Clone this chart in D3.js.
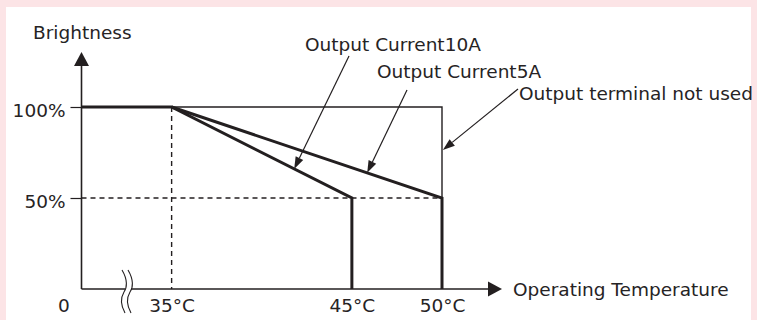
<!DOCTYPE html>
<html>
<head>
<meta charset="utf-8">
<script src="https://cdn.jsdelivr.net/npm/d3@7"></script>
<style>
  html, body { margin: 0; padding: 0; background: #fce4e6; }
  svg { display: block; }
  text { font-family: "DejaVu Sans", Verdana, sans-serif; fill: #262324; }
</style>
</head>
<body>
<svg id="chart" width="757" height="320"></svg>
<script>
// ---------- data ----------
const xTickValues = [35, 45, 50];
const xTickLabels = ["35°C", "45°C", "50°C"];
const yTickValues = [50, 100];
const yTickLabels = ["50%", "100%"];
const xAxisTitle = "Operating Temperature";
const yAxisTitle = "Brightness";
const originLabel = "0";

// derating curves (temperature °C, brightness %)
const curve10A_t = [30, 35, 45, 45];
const curve10A_b = [100, 100, 50, 0];
const curve5A_t = [35, 50, 50];
const curve5A_b = [100, 50, 0];
const noUse_t = [30, 50, 50];
const noUse_b = [100, 100, 50];

// annotation labels and their target points (temperature, brightness)
const annLabels = ["Output Current10A", "Output Current5A", "Output terminal not used"];
const annTargetT = [41.8, 45.85, 50.05];
const annTargetB = [66, 63.9, 76.4];

// ---------- layout ----------
const W = 757, H = 320;
const ink = "#231f20";
const svg = d3.select("#chart");

svg.append("rect").attr("x", 0).attr("y", 0).attr("width", W).attr("height", H).attr("fill", "#fce4e6");
svg.append("rect").attr("x", 6).attr("y", 7).attr("width", 745).attr("height", H - 7).attr("fill", "#ffffff");

const x = d3.scaleLinear().domain([30, 50]).range([81.5, 442]);
const y = d3.scaleLinear().domain([0, 100]).range([289, 107]);
const axisEndX = 502;   // arrow tip of x axis
const axisTopY = 52;    // arrow tip of y axis

const g = svg.append("g");

// dashed guides
g.append("line")
  .attr("x1", x(35)).attr("x2", x(35)).attr("y1", y(100)).attr("y2", y(0))
  .attr("stroke", ink).attr("stroke-width", 1.4).attr("stroke-dasharray", "5,4");
g.append("line")
  .attr("x1", x(30)).attr("x2", x(50)).attr("y1", y(50)).attr("y2", y(50))
  .attr("stroke", ink).attr("stroke-width", 1.4).attr("stroke-dasharray", "5,4");

const line = d3.line().x(d => x(d[0])).y(d => y(d[1]));

// thin "not used" envelope
g.append("path")
  .datum(d3.zip(noUse_t, noUse_b))
  .attr("d", line).attr("fill", "none").attr("stroke", ink).attr("stroke-width", 1.4);

// thick curves
[[curve10A_t, curve10A_b], [curve5A_t, curve5A_b]].forEach(([ts, bs]) => {
  g.append("path")
    .datum(d3.zip(ts, bs))
    .attr("d", line).attr("fill", "none").attr("stroke", ink)
    .attr("stroke-width", 3).attr("stroke-linejoin", "miter");
});

// x axis line (with break)
const breakX1 = 125, breakX2 = 131;
g.append("line").attr("x1", x(30)).attr("x2", breakX1).attr("y1", y(0)).attr("y2", y(0))
  .attr("stroke", ink).attr("stroke-width", 1.6);
g.append("line").attr("x1", breakX2).attr("x2", axisEndX - 12).attr("y1", y(0)).attr("y2", y(0))
  .attr("stroke", ink).attr("stroke-width", 1.6);
// break marks
[breakX1 - 1, breakX2 - 1].forEach(bx => {
  g.append("path")
    .attr("d", `M${bx - 2},270 C${bx + 4},280 ${bx + 3},288 ${bx},292 C${bx - 3},297 ${bx - 4},304 ${bx + 1},313`)
    .attr("fill", "none").attr("stroke", ink).attr("stroke-width", 1.1);
});
// x arrow
g.append("path")
  .attr("d", `M${axisEndX},${y(0)} L${axisEndX - 14},${y(0) - 7.5} L${axisEndX - 14},${y(0) + 7.5} Z`)
  .attr("fill", ink);

// y axis line + arrow
g.append("line").attr("x1", x(30)).attr("x2", x(30)).attr("y1", y(0)).attr("y2", axisTopY + 12)
  .attr("stroke", ink).attr("stroke-width", 1.6);
g.append("path")
  .attr("d", `M${x(30)},${axisTopY} L${x(30) - 7.5},${axisTopY + 14} L${x(30) + 7.5},${axisTopY + 14} Z`)
  .attr("fill", ink);

// y axis ticks & labels
const yAxis = d3.axisLeft(y).tickValues(yTickValues)
  .tickFormat((d, i) => yTickLabels[i]).tickSize(11).tickPadding(5);
const yg = g.append("g").attr("transform", `translate(${x(30)},0)`).call(yAxis);
yg.select(".domain").remove();
yg.selectAll(".tick line").attr("stroke", ink).attr("stroke-width", 1.2);
yg.selectAll(".tick text").attr("font-size", 18.5).attr("font-family", "DejaVu Sans")
  .attr("fill", "#262324").attr("dy", "0.5em");

// x axis labels
const xAxis = d3.axisBottom(x).tickValues(xTickValues)
  .tickFormat((d, i) => xTickLabels[i]).tickSize(0).tickPadding(0);
const xg = g.append("g").attr("transform", `translate(0,${y(0)})`).call(xAxis);
xg.select(".domain").remove();
xg.selectAll(".tick text").attr("font-size", 18.5).attr("font-family", "DejaVu Sans")
  .attr("fill", "#262324").attr("dy", null).attr("y", 23);

// origin label
g.append("text").attr("x", 64).attr("y", y(0) + 23).attr("text-anchor", "middle")
  .attr("font-size", 18.5).text(originLabel);

// axis titles
g.append("text").attr("x", 33).attr("y", 39).attr("font-size", 18.5).text(yAxisTitle);
g.append("text").attr("x", 513).attr("y", y(0) + 7).attr("font-size", 18.5).text(xAxisTitle);

// annotations
const annTextPos = [[305, 51], [377, 78], [519, 100]];
const annLeaderStart = [[349, 56], [407, 90], [518, 89]];
annLabels.forEach((lab, i) => {
  g.append("text").attr("x", annTextPos[i][0]).attr("y", annTextPos[i][1])
    .attr("font-size", 18.5).text(lab);
  const [sx, sy] = annLeaderStart[i];
  const tx = x(annTargetT[i]), ty = y(annTargetB[i]);
  const ang = Math.atan2(ty - sy, tx - sx);
  const L = 12, Wd = 4.2;
  const bx = tx - L * Math.cos(ang), by = ty - L * Math.sin(ang);
  g.append("line").attr("x1", sx).attr("y1", sy).attr("x2", bx).attr("y2", by)
    .attr("stroke", ink).attr("stroke-width", 1.2);
  const px = -Math.sin(ang) * Wd, py = Math.cos(ang) * Wd;
  g.append("path")
    .attr("d", `M${tx},${ty} L${bx + px},${by + py} L${bx - px},${by - py} Z`)
    .attr("fill", ink);
});
</script>
</body>
</html>
